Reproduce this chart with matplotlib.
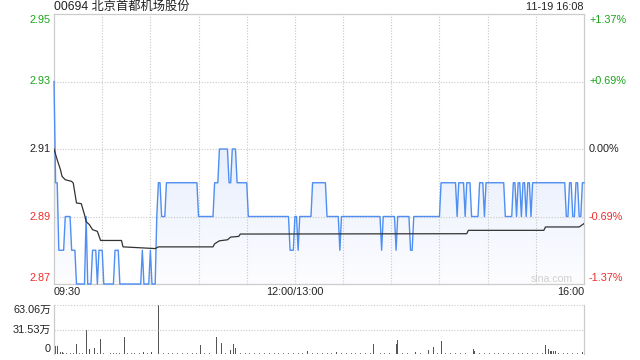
import numpy as np
import matplotlib
matplotlib.use('Agg')
import matplotlib.pyplot as plt
from matplotlib.colors import LinearSegmentedColormap

plt.rcParams['font.family'] = ['Liberation Sans', 'Noto Sans CJK SC']

# 分时数据 (分钟序号 0..330, 09:30-12:00 + 13:00-16:00)
title = '00694 北京首都机场股份'
stamp = '11-19 16:08'
prev_close = 2.91
y_ticks = [2.95, 2.93, 2.91, 2.89, 2.87]
x_labels = ['09:30', '12:00/13:00', '16:00']
x_label_min = [0, 150, 330]

# 价格: 每段开始的分钟 + 该段价格
price_start = [0, 1, 3, 7, 11, 14, 20, 21, 24, 27,
               28, 31, 38, 41, 55, 56, 60, 61, 64, 65,
               67, 70, 90, 100, 103, 109, 111, 114, 121, 147,
               150, 152, 153, 161, 170, 178, 179, 204, 205, 213,
               214, 222, 224, 241, 251, 252, 256, 257, 260, 265,
               268, 269, 281, 286, 288, 289, 291, 292, 294, 295,
               297, 298, 319, 321, 323, 325, 327, 329]
price_level = [2.93, 2.90, 2.88, 2.89, 2.88, 2.87, 2.89, 2.87, 2.88, 2.87,
               2.88, 2.87, 2.88, 2.87, 2.88, 2.87, 2.88, 2.87, 2.89, 2.90,
               2.89, 2.90, 2.89, 2.90, 2.91, 2.90, 2.91, 2.90, 2.89, 2.88,
               2.89, 2.88, 2.89, 2.90, 2.89, 2.88, 2.89, 2.88, 2.89, 2.88,
               2.89, 2.88, 2.89, 2.90, 2.89, 2.90, 2.89, 2.90, 2.89, 2.90,
               2.89, 2.90, 2.89, 2.90, 2.89, 2.90, 2.89, 2.90, 2.89, 2.90,
               2.89, 2.90, 2.89, 2.90, 2.89, 2.90, 2.89, 2.90]

# 均价线
avg_min = [0, 2, 4, 5, 7, 11, 12, 14, 17, 19, 20, 22, 24, 27, 29, 42, 43, 63, 65,
           99, 100, 103, 108, 110, 115, 116, 257, 258, 305, 306, 327, 330]
avg_val = [2.9100, 2.9068, 2.9039, 2.9019, 2.9009, 2.9004, 2.8999, 2.8940, 2.8938,
           2.8905, 2.8885, 2.8876, 2.8861, 2.8856, 2.8829, 2.8829, 2.8810, 2.8805,
           2.8810, 2.8810, 2.8819, 2.8828, 2.8831, 2.8839, 2.8841, 2.8848, 2.8849,
           2.8859, 2.8859, 2.8869, 2.8869, 2.8879]

# 成交量 (万)
vol_min = [1, 2, 4, 5, 14, 20, 22, 25, 29, 33, 44, 56, 61, 65, 66, 91, 101, 104, 110,
           112, 113, 158, 176, 199, 213, 214, 225, 233, 236, 241, 261, 262, 306, 308,
           309, 310, 311, 312, 329, 330]
vol_val = [10.3, 10.3, 3.0, 3.0, 12.9, 30.9, 6.0, 7.3, 18.9, 5.1, 21.4, 2.6, 3.0,
           63.06, 18.9, 11.6, 21.4, 14.6, 5.1, 12.9, 7.3, 3.9, 2.1, 12.9, 12.9, 18.0,
           2.1, 5.1, 8.6, 16.7, 6.0, 4.3, 11.6, 6.0, 3.9, 3.9, 3.9, 3.9, 3.0, 37.3]
vol_small_min = [6, 8, 10, 12, 16, 18, 27, 31, 35, 37, 39, 41, 46, 48, 50, 53, 58,
                 68, 71, 74, 77, 80, 83, 86, 89, 94, 97, 107, 116, 119, 122, 125, 128,
                 131, 134, 137, 140, 143, 146, 149, 152, 155, 161, 164, 167, 170, 173,
                 179, 182, 185, 188, 191, 194, 197, 203, 206, 209, 217, 220, 228, 231,
                 239, 244, 247, 250, 253, 256, 265, 268, 271, 274, 277, 280, 283, 286,
                 289, 292, 295, 298, 301, 304, 314, 317, 320, 323, 326]
vol_small = 1.0
vol_ticks = [63.06, 31.53, 0]

GREEN = '#1aa31a'
RED = '#f02b2b'
DARK = '#222222'
GRID = '#c8c8c8'
BLUE = '#4f8ef2'

runs = np.diff(price_start + [331])
price = np.repeat(price_level, runs)
minutes = np.arange(len(price))

fig = plt.figure(figsize=(6.4, 3.6), dpi=100)
ax = fig.add_axes([54/640, 1-284/360, 530/640, 270/360])
axv = fig.add_axes([54/640, 1-354/360, 530/640, 49/360])

# 渐变填充
poly = ax.fill_between(minutes, price, 2.87, color='none', lw=0)
cmap = LinearSegmentedColormap.from_list('fill', ['#fdfdff', '#dce7fb'])
grad = np.linspace(0, 1, 256).reshape(-1, 1)
im = ax.imshow(grad, extent=[0, 330, 2.87, 2.93], origin='lower', aspect='auto',
               cmap=cmap, zorder=1)
im.set_clip_path(poly.get_paths()[0], transform=ax.transData)

ax.plot(minutes, price, color=BLUE, lw=1.0, zorder=3, clip_on=False)
ax.plot(avg_min, avg_val, color='#333333', lw=0.9, zorder=4)

ax.set_xlim(0, 330)
ax.set_ylim(2.87, 2.95)
ax.set_xticks(np.arange(30, 330, 30))
ax.set_yticks([2.93, 2.91, 2.89])
ax.grid(True, color=GRID, linestyle=(0, (1, 1.5)), lw=0.8)
ax.tick_params(length=0, labelbottom=False, labelleft=False)
for s in ax.spines.values():
    s.set_color('#cccccc')
    s.set_linewidth(0.9)

fs = 7.8
for v in y_ticks:
    if v > prev_close:
        c = GREEN
    elif v < prev_close:
        c = RED
    else:
        c = DARK
    va = 'top' if v == y_ticks[0] else ('bottom' if v == y_ticks[-1] else 'center')
    dy = -1 if va == 'top' else (1 if va == 'bottom' else 0)
    ax.annotate(f'{v:.2f}', xy=(0, v), xycoords=('axes fraction', 'data'),
                xytext=(-3, dy), textcoords='offset pixels', ha='right', va=va,
                color=c, fontsize=fs)
    pct = (v - prev_close) / prev_close * 100
    ptxt = '0.00%' if abs(pct) < 1e-9 else f'{pct:+.2f}%'
    ax.annotate(ptxt, xy=(1, v), xycoords=('axes fraction', 'data'),
                xytext=(5, dy), textcoords='offset pixels', ha='left', va=va,
                color=c, fontsize=fs)

for lab, m, ha in zip(x_labels, x_label_min, ['left', 'center', 'right']):
    ax.annotate(lab, xy=(m, 0), xycoords=('data', 'axes fraction'),
                xytext=(0, -3), textcoords='offset pixels', ha=ha, va='top',
                color=DARK, fontsize=fs)

ax.annotate(title, xy=(0, 1), xycoords='axes fraction', xytext=(0, 7),
            textcoords='offset pixels', ha='left', va='center', color=DARK,
            fontsize=8.8)
ax.annotate(stamp, xy=(1, 1), xycoords='axes fraction', xytext=(0, 7),
            textcoords='offset pixels', ha='right', va='center', color=DARK,
            fontsize=fs)
ax.annotate('sina.com', xy=(1, 0), xycoords='axes fraction', xytext=(-11, 5),
            textcoords='offset pixels', ha='right', va='center', color='#d0d0d0',
            fontsize=7.6)

# 成交量
axv.bar(vol_small_min, [vol_small] * len(vol_small_min), width=0.6, color='#777777')
axv.bar(vol_min, vol_val, width=0.6, color='#555555')
axv.set_xlim(0, 330)
axv.set_ylim(0, vol_ticks[0])
axv.set_xticks([])
axv.set_yticks(vol_ticks[:2])
axv.grid(True, axis='y', color=GRID, linestyle=(0, (1, 1.5)), lw=0.8)
for l in axv.get_ygridlines():
    l.set_clip_on(False)
axv.tick_params(length=0, labelleft=False)
for k in ['top', 'bottom']:
    axv.spines[k].set_visible(False)
for k in ['left', 'right']:
    axv.spines[k].set_color('#cccccc')
    axv.spines[k].set_linewidth(0.9)

for v in vol_ticks:
    lab = '0' if v == 0 else f'{v:.2f}万'
    va = 'top' if v == vol_ticks[0] else ('bottom' if v == 0 else 'center')
    axv.annotate(lab, xy=(0, v), xycoords=('axes fraction', 'data'),
                 xytext=(-3, 0), textcoords='offset pixels', ha='right', va=va,
                 color=DARK, fontsize=fs)

fig.savefig('out.png', dpi=100)
